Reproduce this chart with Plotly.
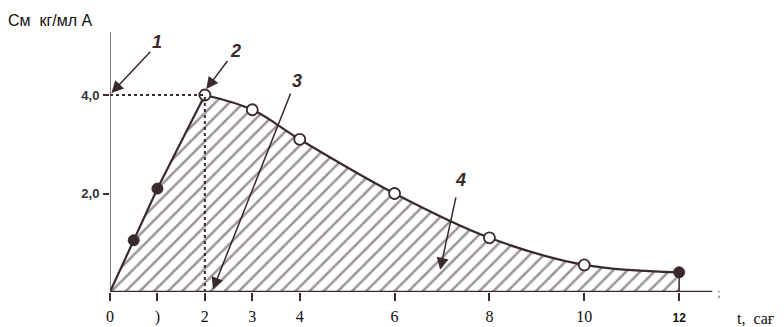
import plotly.graph_objects as go

# ---- data ----
time_h = [0, 0.5, 1, 2, 3, 4, 6, 8, 10, 12]
conc = [0, 1.05, 2.1, 4.0, 3.7, 3.1, 2.0, 1.1, 0.55, 0.4]
filled_idx = [1, 2, 9]
open_idx = [3, 4, 5, 6, 7, 8]
peak_t = 2
peak_c = 4.0

x_tickvals = [0, 1, 2, 3, 4, 6, 8, 10, 12]
x_ticktext = ["0", ")", "2", "3", "4", "6", "8", "10",
              "<span style='font-family:Liberation Sans;font-size:12px'><b>12</b></span>"]
y_tickvals = [2.0, 4.0]
y_ticktext = ["<b>2,0</b>", "<b>4,0</b>"]

INK = "#3a2a2a"
pattern = dict(shape="/", size=10, solidity=0.25, fgcolor=INK, bgcolor="white")

fig = go.Figure()

# rising part (linear) with hatched fill
rise_t = time_h[:4]
rise_c = conc[:4]
fig.add_trace(go.Scatter(x=rise_t, y=rise_c, mode="lines", fill="tozeroy",
                         fillcolor="rgba(0,0,0,0)", fillpattern=pattern,
                         line=dict(color=INK, width=2.2), hoverinfo="skip"))
# decay part (smooth)
dec_t = time_h[3:]
dec_c = conc[3:]
fig.add_trace(go.Scatter(x=dec_t, y=dec_c, mode="lines", fill="tozeroy",
                         fillcolor="rgba(0,0,0,0)", fillpattern=pattern,
                         line=dict(color=INK, width=2.2, shape="spline", smoothing=1.0),
                         hoverinfo="skip"))

# markers
fig.add_trace(go.Scatter(x=[time_h[i] for i in filled_idx], y=[conc[i] for i in filled_idx],
                         mode="markers", marker=dict(size=11, color=INK, line=dict(color=INK, width=1)),
                         hoverinfo="skip", cliponaxis=False))
fig.add_trace(go.Scatter(x=[time_h[i] for i in open_idx], y=[conc[i] for i in open_idx],
                         mode="markers", marker=dict(size=11, color="white", line=dict(color=INK, width=1.8)),
                         hoverinfo="skip", cliponaxis=False))

shapes = [
    # axes
    dict(type="line", x0=0, x1=12.7, y0=0, y1=0, line=dict(color=INK, width=2.5)),
    dict(type="line", x0=0, x1=0, y0=0, y1=5.28, line=dict(color="#5a4a4a", width=1.5)),
    # dotted guides
    dict(type="line", x0=0, x1=peak_t, y0=peak_c, y1=peak_c, line=dict(color=INK, width=2, dash="dot")),
    dict(type="line", x0=peak_t, x1=peak_t, y0=0, y1=peak_c, line=dict(color=INK, width=2, dash="dot")),
    # end edge of area
    dict(type="line", x0=12, x1=12, y0=0, y1=conc[-1], line=dict(color=INK, width=1.5)),
]

def arrow(tip, tail):
    return dict(x=tip[0], y=tip[1], ax=tail[0], ay=tail[1], xref="x", yref="y", axref="x", ayref="y",
                showarrow=True, arrowhead=2, arrowsize=1.6, arrowwidth=1.5, arrowcolor=INK, text="")

def label(txt, pos):
    return dict(x=pos[0], y=pos[1], xref="x", yref="y", text="<b><i>" + txt + "</i></b>", showarrow=False,
                font=dict(family="Liberation Sans Narrow, Liberation Sans", size=18, color=INK))

annotations = [
    arrow((0.03, 4.04), (0.88, 4.91)), label("1", (1.0, 5.08)),
    arrow((2.03, 4.12), (2.5, 4.72)), label("2", (2.65, 4.9)),
    arrow((2.17, 0.05), (3.82, 4.06)), label("3", (3.95, 4.28)),
    arrow((6.96, 0.45), (7.3, 1.95)), label("4", (7.38, 2.27)),
    dict(x=(735 - 110) / 664, y=-(318 - 292) / 282, xref="paper", yref="paper",
         xanchor="left", yanchor="middle", text="t,  сағ", showarrow=False,
         font=dict(family="Liberation Serif", size=16, color="#111")),
    dict(x=12.85, y=0.0, xref="x", yref="y", text=";", showarrow=False,
         font=dict(family="Liberation Serif", size=13, color="#666")),
]

fig.update_layout(
    width=784, height=327,
    margin=dict(l=110, r=10, t=10, b=35),
    paper_bgcolor="white", plot_bgcolor="white",
    showlegend=False,
    shapes=shapes,
    annotations=annotations,
    title=dict(text="См  кг/мл А", x=8 / 784, xanchor="left", xref="container",
               y=1 - 20 / 327, yanchor="middle", yref="container",
               font=dict(family="Liberation Sans", size=16, color="#111")),
    xaxis=dict(range=[0, 14], tickvals=x_tickvals, ticktext=x_ticktext, ticks="outside",
               ticklen=8, tickwidth=2, tickcolor=INK, showgrid=False, zeroline=False,
               showline=False, automargin=False, ticklabelstandoff=2,
               tickfont=dict(family="Liberation Serif", size=16, color="#111")),
    yaxis=dict(range=[0, 282 / 49.25], tickvals=y_tickvals, ticktext=y_ticktext, ticks="outside",
               ticklen=6, tickwidth=1.5, tickcolor=INK, showgrid=False, zeroline=False,
               showline=False, automargin=False, ticklabelstandoff=1,
               tickfont=dict(family="Liberation Sans Narrow, Liberation Sans", size=13, color="#333")),
)

fig.write_html("out.html", config={"displayModeBar": False},
               post_script="document.body.style.margin='0';document.body.style.overflow='hidden';")
